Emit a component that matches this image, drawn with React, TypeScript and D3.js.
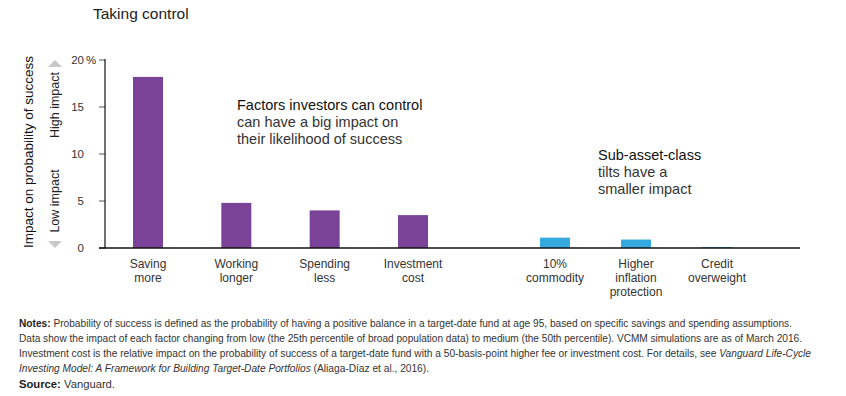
import React from "react";
import * as d3 from "d3";

// bars: factors investors control (purple) and sub-asset-class tilts (blue)
const controlLabels = [["Saving", "more"], ["Working", "longer"], ["Spending", "less"], ["Investment", "cost"]];
const controlValues = [18.2, 4.8, 4.0, 3.5];
const tiltLabels = [["10%", "commodity"], ["Higher", "inflation", "protection"], ["Credit", "overweight"]];
const tiltValues = [1.1, 0.9, 0.1];
const yTicks = [0, 5, 10, 15, 20];

const W = 846;
const H = 396;
const FONT = "'Liberation Sans', Arial, sans-serif";
const PURPLE = "#7b4397";
const BLUE = "#35aade";

export default function App() {
  const y = d3.scaleLinear().domain([0, 20]).range([248, 60]);
  const xControl = d3.scalePoint<number>().domain(d3.range(controlValues.length)).range([148, 413]);
  const xTilt = d3.scalePoint<number>().domain(d3.range(tiltValues.length)).range([555, 717]);
  const barW = 30;

  const bars = [
    ...controlValues.map((v, i) => ({ v, cx: xControl(i)!, lines: controlLabels[i], fill: PURPLE })),
    ...tiltValues.map((v, i) => ({ v, cx: xTilt(i)!, lines: tiltLabels[i], fill: BLUE })),
  ];

  return (
    <svg width={W} height={H} style={{ position: "absolute", left: 0, top: 0, background: "#fff" }} fontFamily={FONT}>
      <text x={93} y={19} fontSize={15.5} fill="#222">Taking control</text>

      {/* y-axis title and impact hints */}
      <text transform="translate(33,152) rotate(-90)" textAnchor="middle" fontSize={13.5} fill="#111">
        Impact on probability of success
      </text>
      <text transform="translate(59,105) rotate(-90)" textAnchor="middle" fontSize={12.5} fill="#222">High impact</text>
      <text transform="translate(59,201) rotate(-90)" textAnchor="middle" fontSize={12.5} fill="#222">Low impact</text>
      <path d="M48,67 L55,60 L62,67 Z" fill="#c8c8c8" />
      <path d="M48,241 L55,248 L62,241 Z" fill="#c8c8c8" />

      {/* y axis */}
      {yTicks.map((t) => (
        <g key={t}>
          <line x1={99} x2={105} y1={y(t)} y2={y(t)} stroke="#555" strokeWidth={1} />
          <text x={84} y={y(t)} dy="0.35em" textAnchor="end" fontSize={11.5} fill="#333">{t}</text>
          {t === 20 && (
            <text x={86} y={y(t)} dy="0.35em" fontSize={11.5} fill="#333">%</text>
          )}
        </g>
      ))}
      <line x1={105} x2={105} y1={y(20) - 1} y2={y(0)} stroke="#111" strokeWidth={1.2} />

      {/* bars */}
      {bars.map((b, i) => (
        <g key={i}>
          <rect x={b.cx - barW / 2} y={y(b.v)} width={barW} height={y(0) - y(b.v)} fill={b.fill} />
          <text textAnchor="middle" fontSize={12} fill="#333">
            {b.lines.map((l, j) => (
              <tspan key={j} x={b.cx} y={268 + j * 14}>{l}</tspan>
            ))}
          </text>
        </g>
      ))}
      <line x1={99} x2={800} y1={y(0)} y2={y(0)} stroke="#111" strokeWidth={1.5} />

      {/* annotations */}
      <text fontSize={14.5} fill="#111">
        <tspan x={237} y={110}>Factors investors can control</tspan>
        <tspan x={237} y={127} fill="#333">can have a big impact on</tspan>
        <tspan x={237} y={144} fill="#333">their likelihood of success</tspan>
      </text>
      <text fontSize={14.5} fill="#111">
        <tspan x={598} y={160}>Sub-asset-class</tspan>
        <tspan x={598} y={177} fill="#333">tilts have a</tspan>
        <tspan x={598} y={194} fill="#333">smaller impact</tspan>
      </text>

      {/* notes */}
      <g fontSize={10} fill="#333">
        <text x={19} y={327} textLength={773} lengthAdjust="spacingAndGlyphs">
          <tspan fontWeight="bold" fill="#222">Notes:</tspan> Probability of success is defined as the probability of having a positive balance in a target-date fund at age 95, based on specific savings and spending assumptions.
        </text>
        <text x={19} y={342} textLength={783} lengthAdjust="spacingAndGlyphs">
          Data show the impact of each factor changing from low (the 25th percentile of broad population data) to medium (the 50th percentile). VCMM simulations are as of March 2016.
        </text>
        <text x={19} y={357} textLength={792} lengthAdjust="spacingAndGlyphs">
          Investment cost is the relative impact on the probability of success of a target-date fund with a 50-basis-point higher fee or investment cost. For details, see <tspan fontStyle="italic">Vanguard Life-Cycle</tspan>
        </text>
        <text x={19} y={372} textLength={410} lengthAdjust="spacingAndGlyphs">
          <tspan fontStyle="italic">Investing Model: A Framework for Building Target-Date Portfolios</tspan> (Aliaga-Díaz et al., 2016).
        </text>
        <text x={19} y={388} textLength={96} lengthAdjust="spacingAndGlyphs">
          <tspan fontWeight="bold" fill="#222">Source:</tspan> Vanguard.
        </text>
      </g>
    </svg>
  );
}
